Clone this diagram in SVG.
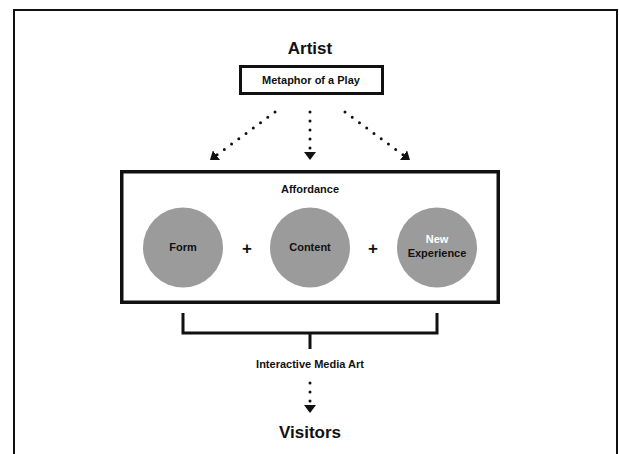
<svg xmlns="http://www.w3.org/2000/svg" width="619" height="454" viewBox="0 0 619 454">
<style>
text{font-family:"Liberation Sans",Arial,sans-serif;font-weight:bold;text-anchor:middle;fill:#111}
.big{font-size:17px}
.sm{font-size:11px}
.circ{fill:#9b9b9b}
.dot{fill:none;stroke:#111;stroke-width:3;stroke-linecap:round;stroke-dasharray:0 9}
.box{fill:#fff;stroke:#111}
.br{fill:none;stroke:#111;stroke-width:3}
</style>
<defs>
<marker id="ah" viewBox="0 0 8 12" refX="8" refY="6" markerWidth="8" markerHeight="12" markerUnits="userSpaceOnUse" orient="auto">
<path d="M0,0 L8,6 L0,12 z" fill="#111"/>
</marker>
</defs>
<rect x="14" y="10" width="603" height="460" fill="#fff" stroke="#111" stroke-width="2"/>
<g id="artist"><text class="big" x="310" y="54">Artist</text></g>
<g id="metaphor">
<rect class="box" x="240.5" y="66.5" width="142" height="27" stroke-width="3"/>
<text class="sm" x="311" y="84">Metaphor of a Play</text>
</g>
<g id="connectors">
<line class="dot" x1="275" y1="112" x2="210" y2="160" marker-end="url(#ah)"/>
<line class="dot" x1="310" y1="112" x2="310" y2="160" marker-end="url(#ah)"/>
<line class="dot" x1="345" y1="112" x2="410" y2="160" marker-end="url(#ah)"/>
<path class="br" d="M183,313 V333 H437 V313 M310,333 V349"/>
<line class="dot" x1="310" y1="383" x2="310" y2="413" marker-end="url(#ah)"/>
</g>
<g id="affordance">
<rect class="box" x="121.75" y="171.75" width="376.5" height="130.5" stroke-width="3.5"/>
<text class="sm" x="310" y="193">Affordance</text>
</g>
<g id="form">
<circle class="circ" cx="183" cy="247.5" r="40"/>
<text class="sm" x="183" y="251">Form</text>
</g>
<g id="plus1"><text class="big" x="247" y="254">+</text></g>
<g id="content">
<circle class="circ" cx="310" cy="247.5" r="40"/>
<text class="sm" x="310" y="251">Content</text>
</g>
<g id="plus2"><text class="big" x="373" y="254">+</text></g>
<g id="newexp">
<circle class="circ" cx="437" cy="247.5" r="40"/>
<text class="sm" x="437" y="243" style="fill:#fff">New</text>
<text class="sm" x="437" y="257">Experience</text>
</g>
<g id="ima"><text class="sm" x="310" y="368">Interactive Media Art</text></g>
<g id="visitors"><text class="big" x="310" y="438">Visitors</text></g>
</svg>
